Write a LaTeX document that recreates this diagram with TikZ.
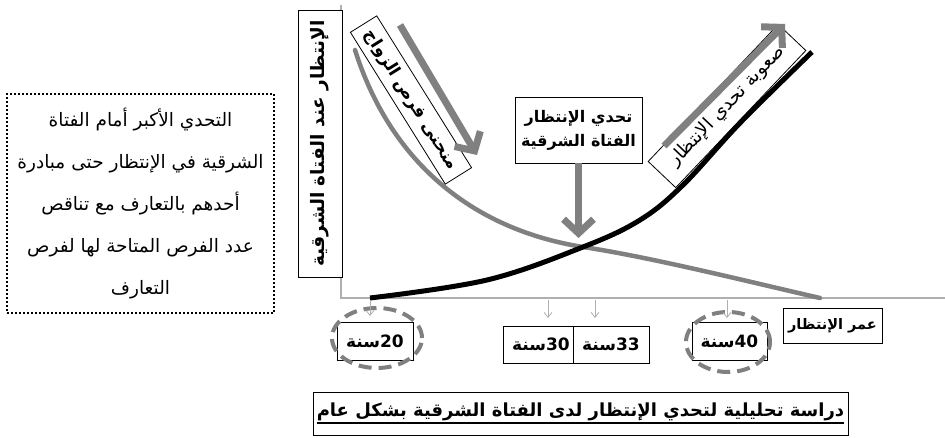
\documentclass[tikz,border=0pt]{standalone}
\usepackage{fontspec}
\setmainfont{DejaVu Sans}
\newfontfamily\arabicfont[Script=Arabic]{DejaVu Sans}
\TeXXeTstate=1
\usetikzlibrary{arrows.meta,positioning,shapes.geometric}
\definecolor{kurve}{RGB}{128,128,128}
\definecolor{achse}{RGB}{175,175,175}
\newcommand{\rtl}[1]{\beginR #1\endR}
\newcommand{\zahl}[1]{\beginL #1\endL}
\newcommand{\dickunter}[1]{\setbox0\hbox{#1}\vtop{\copy0\kern1pt\hrule height 2.4pt width \wd0}}

\begin{document}
\begin{tikzpicture}[x=1pt,y=-1pt,thick]
\tikzstyle{lab}=[rectangle,draw=black,fill=white,line width=0.8pt,inner sep=2pt,
                 font=\arabicfont\bfseries\fontsize{16}{24}\selectfont]
\tikzstyle{jahr}=[lab,minimum width=76pt,minimum height=37pt,font=\arabicfont\bfseries\fontsize{17}{20}\selectfont]
\tikzstyle{oval}=[ellipse,draw=kurve,line width=4pt,dash pattern=on 13pt off 7pt]
\tikzstyle{grosspfeil}=[draw=kurve,line width=7pt,-{Straight Barb[length=14pt,width=30pt]}]
\tikzstyle{tick}=[draw=achse,line width=0.8pt,-{Straight Barb[length=5pt,width=8pt]}]
\useasboundingbox (0,0) rectangle (945,438);

% axes
\coordinate (ursprung) at (341,298);
\coordinate (oben) at (341,5);
\coordinate (rechts) at (945,298);
\draw[achse,line width=1.4pt] (oben) -- (ursprung) -- (rechts);

% explanation
\node[rectangle,draw=black,line width=2pt,dash pattern=on 2pt off 2pt,
      minimum width=267pt,minimum height=219pt,align=center,
      font=\arabicfont\fontsize{18.5}{42}\selectfont] (erklaerung) at (140.5,203.5)
  {\rtl{التحدي الأكبر أمام الفتاة}\\
   \rtl{الشرقية في الإنتظار حتى مبادرة}\\
   \rtl{أحدهم بالتعارف مع تناقص}\\
   \rtl{عدد الفرص المتاحة لها لفرص}\\
   \rtl{التعارف}};

% axis labels
\node[lab,rotate=90,minimum width=267pt,minimum height=44pt,
      font=\arabicfont\bfseries\fontsize{18.5}{22}\selectfont] (yachse) at (320,143.5)
  {\rtl{الإنتظار عند الفتاة الشرقية}};
\node[lab,minimum width=99pt,minimum height=35pt,
      font=\arabicfont\bfseries\fontsize{14.5}{18}\selectfont] (umr) at (832.5,325.5)
  {\rtl{عمر الإنتظار}};

% curves
\coordinate (g0) at (355,50);
\coordinate (gx) at (583,247);
\coordinate (g1) at (820,298);
\draw[kurve,line width=4.5pt,line cap=round]
  (g0) .. controls (390,160) and (470,229) .. (gx)
       .. controls (650,257) and (750,282) .. (g1);

% curve labels
\node[lab,rotate=-58,minimum width=179pt,minimum height=31pt,
      font=\arabicfont\bfseries\fontsize{17}{20}\selectfont] (zawaj) at (411,100)
  {\rtl{منحنى فرص الزواج}};
\node[lab,rotate=46.5,minimum width=189pt,minimum height=38pt,
      font=\arabicfont\fontsize{18.5}{20}\selectfont] (suuba) at (727,106)
  {\rtl{صعوبة تحدي الإنتظار}};

\draw[black,line width=5pt] plot[smooth,tension=0.6] coordinates
  {(370,298) (487,280) (583,247) (640,220) (683,185) (740,123) (812,52)};

% big arrows
\coordinate (z1) at (400,25);
\coordinate (z2) at (477,155);
\draw[grosspfeil] (z1) -- (z2);
\coordinate (s1) at (664,146);
\coordinate (s2) at (785,24);
\draw[grosspfeil] (s1) -- (s2);
\node[lab,minimum width=127pt,minimum height=66pt,align=center] (tahaddi) at (578.5,130)
  {\rtl{تحدي الإنتظار}\\ \rtl{الفتاة الشرقية}};
\coordinate (schnitt) at (578.5,238);
\draw[grosspfeil] (tahaddi.south) -- (schnitt);

% ages
\node[jahr,minimum height=38pt] (j20) at (375,341) {\rtl{\zahl{20}سنة}};
\node[oval,minimum width=90pt,minimum height=60pt] (o20) at (377,338) {};
\node[jahr] (j30) at (541,344.5) {\rtl{\zahl{30}سنة}};
\node[jahr] (j33) at (611,344.5) {\rtl{\zahl{33}سنة}};
\node[jahr,minimum width=75pt,minimum height=38pt] (j40) at (729.5,341) {\rtl{\zahl{40}سنة}};
\node[oval,minimum width=84pt,minimum height=60pt] (o40) at (728,342) {};

% ticks
\foreach \nm/\xx/\yy in {t20/370/316,t30/548/318,t33/595/318,t40/727/318}{
  \coordinate (\nm a) at (\xx,300);
  \coordinate (\nm b) at (\xx,\yy);
  \draw[tick] (\nm a) -- (\nm b);
}

% title
\node[lab,minimum width=535pt,minimum height=43pt,
      font=\arabicfont\bfseries\fontsize{18}{20}\selectfont] (titel) at (580.5,413.5)
  {\dickunter{\rtl{دراسة تحليلية لتحدي الإنتظار لدى الفتاة الشرقية بشكل عام}}};
\end{tikzpicture}
\end{document}
